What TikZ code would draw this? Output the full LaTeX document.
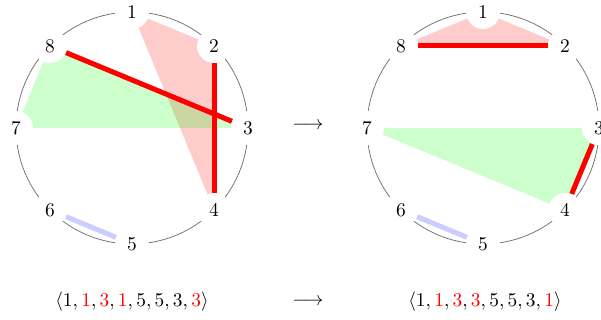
\documentclass[tikz,border=0pt]{standalone}
\usetikzlibrary{backgrounds}
\begin{document}
\begin{tikzpicture}[x=0.515pt,y=-0.515pt,
  vtx/.style={circle,fill=white,inner sep=0pt,minimum size=17.5pt},
  ring/.style={draw=black!55,line width=0.4pt},
  redline/.style={draw=red,line width=2.6pt},
  blueline/.style={draw=blue!20,line width=2.6pt},
  redfill/.style={fill=red,fill opacity=0.2},
  greenfill/.style={fill=green,fill opacity=0.2},
  lbl/.style={inner sep=0pt}]
\useasboundingbox (0,0) rectangle (601,320);
\foreach \k in {1,...,8}{
  \pgfmathsetmacro{\a}{90-45*(\k-1)}
  \node[vtx] (L\k) at ({132+116*cos(\a)},{128-116*sin(\a)}) {\k};
  \node[vtx] (R\k) at ({483+116*cos(\a)},{128-116*sin(\a)}) {\k};
}
\begin{pgfonlayer}{background}
  % left
  \fill[redfill] (L1.center) -- (L2.center) -- (L4.center) -- cycle;
  \fill[greenfill] (L8.center) -- (L7.center) -- (L3.center) -- cycle;
  \draw[redline] (L8) -- (L3);
  \draw[redline] (L2) -- (L4);
  \draw[blueline] (L6) -- (L5);
  \draw[ring] (132,128) circle[radius=116];
  % right
  \fill[redfill] (R8.center) -- (R1.center) -- (R2.center) -- cycle;
  \fill[greenfill] (R7.center) -- (R3.center) -- (R4.center) -- cycle;
  \draw[redline] (R8) -- (R2);
  \draw[redline] (R3) -- (R4);
  \draw[blueline] (R6) -- (R5);
  \draw[ring] (483,128) circle[radius=116];
\end{pgfonlayer}
\node[lbl] (arrtop) at (308,126) {$\longrightarrow$};
\node[lbl] (seqL) at (132,302) {$\langle 1,\textcolor{red}{1},\textcolor{red}{3},\textcolor{red}{1},5,5,3,\textcolor{red}{3}\rangle$};
\node[lbl] (arrbot) at (308,302) {$\longrightarrow$};
\node[lbl] (seqR) at (485,302) {$\langle 1,\textcolor{red}{1},\textcolor{red}{3},\textcolor{red}{3},5,5,3,\textcolor{red}{1}\rangle$};
\end{tikzpicture}
\end{document}
